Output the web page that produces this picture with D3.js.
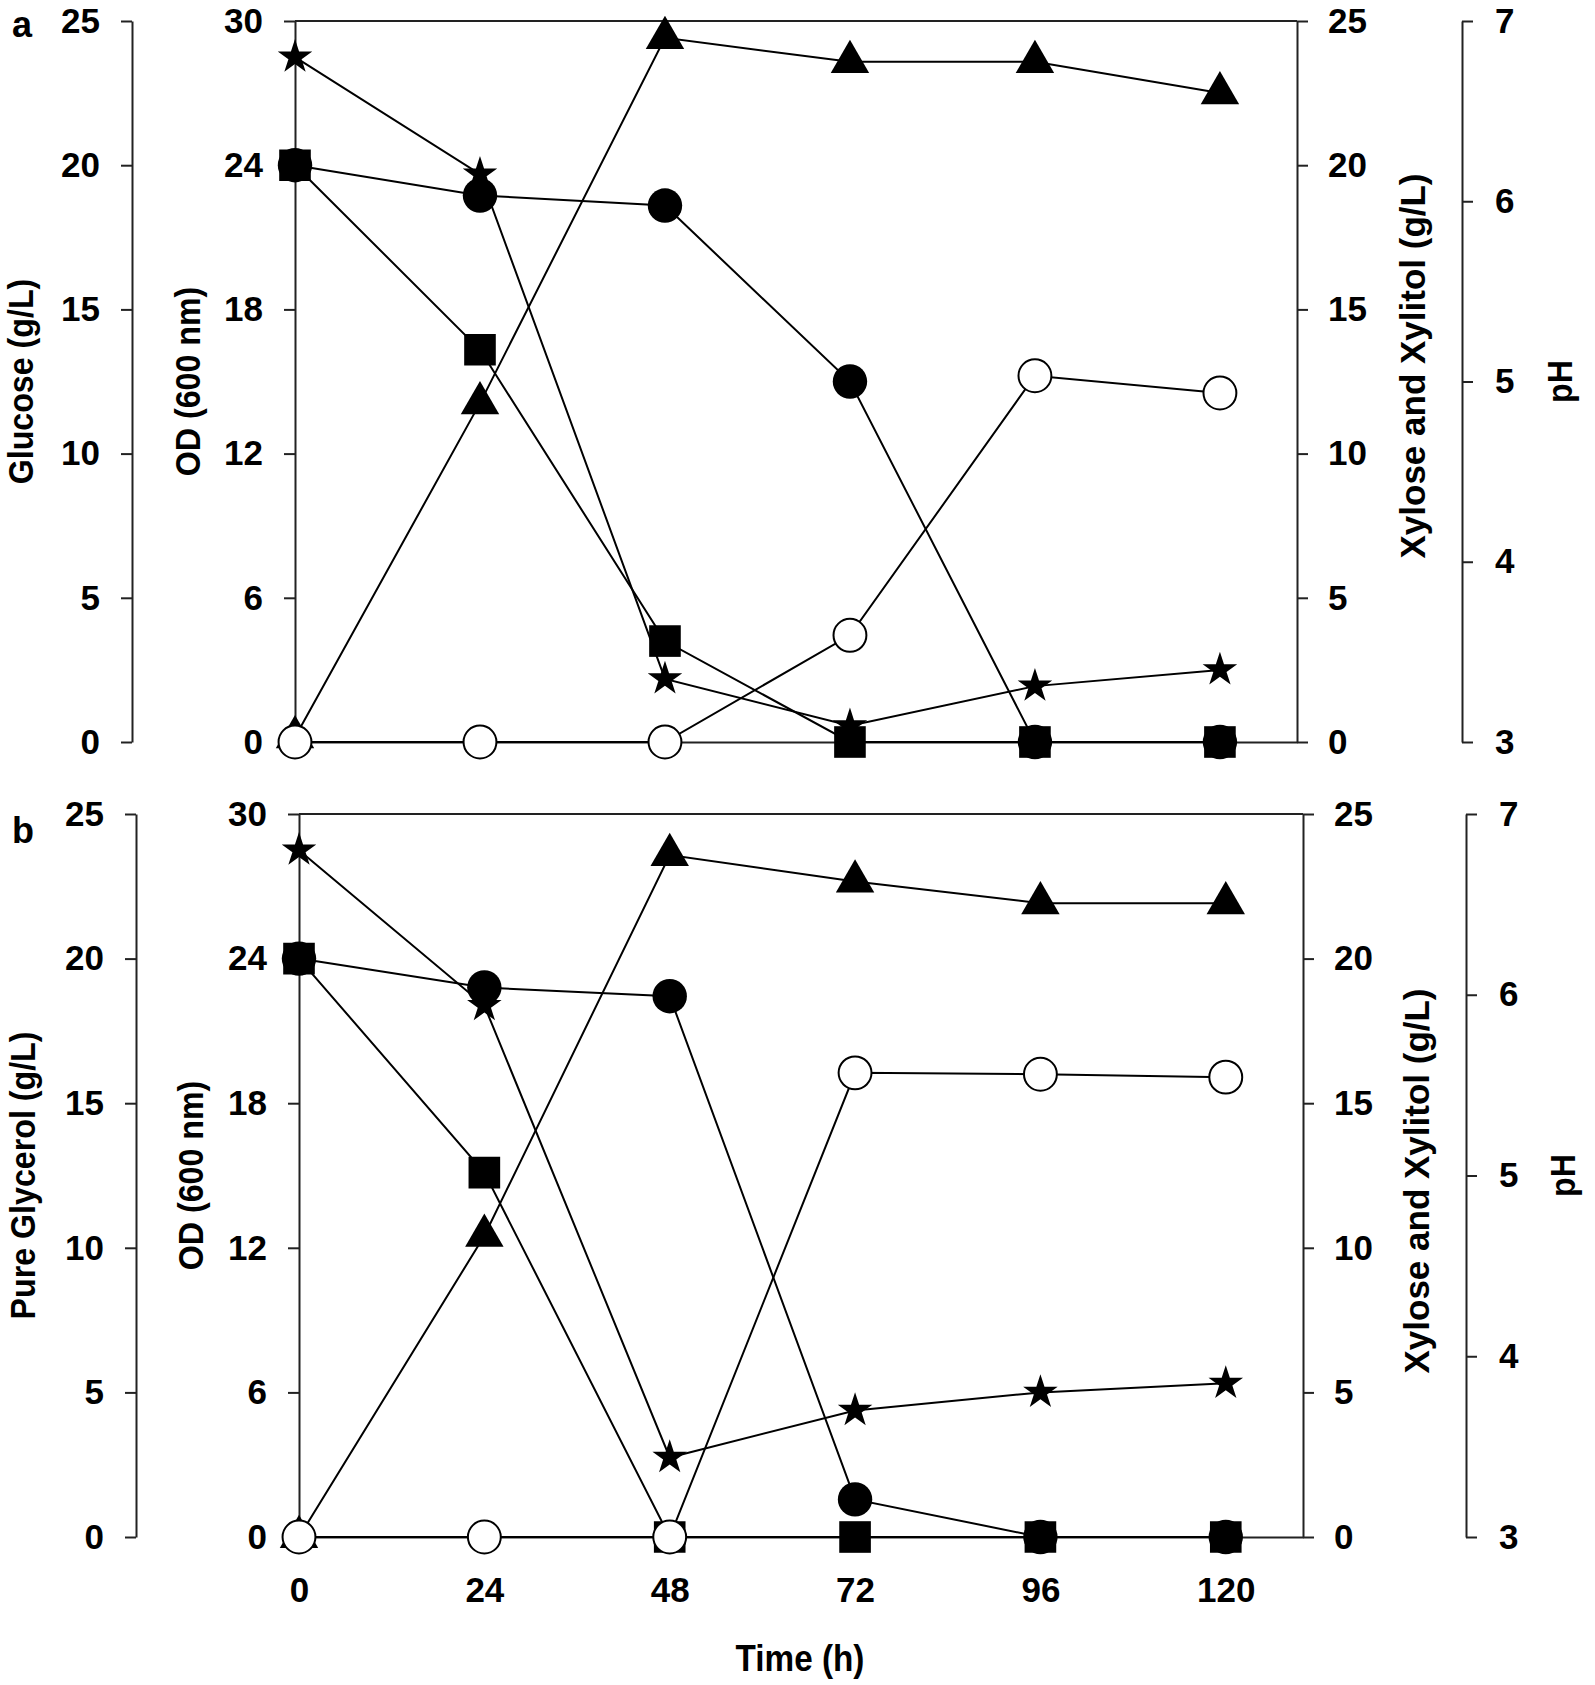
<!DOCTYPE html>
<html>
<head>
<meta charset="utf-8">
<script src="https://cdn.jsdelivr.net/npm/d3@7"></script>
<style>
body { margin: 0; background: #fff; }
text { font-family: 'Liberation Sans Narrow', 'Arial Narrow', 'Liberation Sans', sans-serif; font-weight: bold; fill: #000; }
</style>
</head>
<body>
<script>
// sampling times (h)
var hours = [0, 24, 48, 72, 96, 120];

// panel a - glucose
var glucoseA = [20, 13.6, 3.5, 0, 0, 0];
var odA = [0.2, 14.1, 29.3, 28.3, 28.3, 27.0];
var xyloseA = [20, 18.95, 18.6, 12.5, 0, 0];
var xylitolA = [0, 0, 0, 3.7, 12.7, 12.1];
var phA = [6.8, 6.15, 3.35, 3.09, 3.31, 3.4];

// panel b - pure glycerol
var glycerolB = [20, 12.6, 0, 0, 0, 0];
var odB = [0, 12.5, 28.3, 27.2, 26.3, 26.3];
var xyloseB = [20, 19.0, 18.7, 1.3, 0, 0];
var xylitolB = [0, 0, 0, 16.05, 16.0, 15.9];
var phB = [6.8, 5.94, 3.44, 3.7, 3.8, 3.85];

// tick labels
var substrateTicks = [0, 5, 10, 15, 20, 25];
var odTicks = [0, 6, 12, 18, 24, 30];
var xylTicks = [0, 5, 10, 15, 20, 25];
var phTicks = [3, 4, 5, 6, 7];

var svgWidth = 1595, svgHeight = 1685;

var svg = d3.select("body")
  .append("svg")
  .attr("width", svgWidth)
  .attr("height", svgHeight);

var panels = [
  { tag: "a", subLabel: "Glucose (g/L)", sub: glucoseA, od: odA, xyl: xyloseA, xol: xylitolA, ph: phA,
    top: 21, bottom: 742, leftX: 132, x0: 295, x1: 1297, phX: 1462, showTime: false,
    tagY: 37, subTitleX: 33, odTitleX: 200, xylTitleX: 1425, xylTitleY: 366, phTitleX: 1572 },
  { tag: "b", subLabel: "Pure Glycerol (g/L)", sub: glycerolB, od: odB, xyl: xyloseB, xol: xylitolB, ph: phB,
    top: 814, bottom: 1537, leftX: 136, x0: 299, x1: 1303, phX: 1466, showTime: true,
    tagY: 843, subTitleX: 35, odTitleX: 203, xylTitleX: 1429, xylTitleY: 1181, phTitleX: 1575 }
];

function styleAxis(g) {
  g.select(".domain").attr("stroke", "#222").attr("stroke-width", 2);
  g.selectAll(".tick line").attr("stroke", "#222").attr("stroke-width", 2);
  g.selectAll(".tick text").attr("font-size", 35).attr("fill", "#000");
}

panels.forEach(function(p) {
  var x = d3.scaleLinear().domain([0, 130]).range([p.x0, p.x1]);
  var ySub = d3.scaleLinear().domain([0, 25]).range([p.bottom, p.top]);
  var yOd = d3.scaleLinear().domain([0, 30]).range([p.bottom, p.top]);
  var yXyl = d3.scaleLinear().domain([0, 25]).range([p.bottom, p.top]);
  var yPh = d3.scaleLinear().domain([3, 7]).range([p.bottom, p.top]);

  var g = svg.append("g");

  // axes
  g.append("g").attr("transform", `translate(${p.leftX},0)`)
    .call(d3.axisLeft(ySub).tickValues(substrateTicks).tickSize(11).tickSizeOuter(0).tickPadding(21))
    .call(styleAxis);
  g.append("g").attr("transform", `translate(${p.x0},0)`)
    .call(d3.axisLeft(yOd).tickValues(odTicks).tickSize(11).tickSizeOuter(0).tickPadding(21))
    .call(styleAxis);
  g.append("g").attr("transform", `translate(${p.x1},0)`)
    .call(d3.axisRight(yXyl).tickValues(xylTicks).tickSize(11).tickSizeOuter(0).tickPadding(20))
    .call(styleAxis);
  g.append("g").attr("transform", `translate(${p.phX},0)`)
    .call(d3.axisRight(yPh).tickValues(phTicks).tickFormat(d3.format("d")).tickSize(11).tickSizeOuter(0).tickPadding(22))
    .call(styleAxis);

  // top frame
  g.append("line")
    .attr("x1", p.x0).attr("x2", p.x1)
    .attr("y1", p.top).attr("y2", p.top)
    .attr("stroke", "#222").attr("stroke-width", 2);

  // bottom / time axis
  var xAxis = d3.axisBottom(x).tickValues(hours).tickSize(0).tickSizeOuter(0).tickPadding(40);
  if (!p.showTime) xAxis.tickFormat("");
  g.append("g").attr("transform", `translate(0,${p.bottom})`)
    .call(xAxis)
    .call(styleAxis);

  // series drawn back to front
  var series = [
    { v: p.od, y: yOd, type: d3.symbolTriangle, size: 640, fill: "#000" },
    { v: p.ph, y: yPh, type: d3.symbolStar, size: 370, fill: "#000" },
    { v: p.sub, y: ySub, type: d3.symbolSquare, size: 1000, fill: "#000" },
    { v: p.xyl, y: yXyl, type: d3.symbolCircle, size: 930, fill: "#000" },
    { v: p.xol, y: yXyl, type: d3.symbolCircle, size: 850, fill: "#fff" }
  ];

  series.forEach(function(s) {
    var line = d3.line()
      .x(function(d, i) { return x(hours[i]); })
      .y(function(d) { return s.y(d); });
    g.append("path")
      .datum(s.v)
      .attr("d", line)
      .attr("fill", "none")
      .attr("stroke", "#000")
      .attr("stroke-width", 2);
  });

  series.forEach(function(s) {
    g.selectAll(null)
      .data(s.v)
      .enter()
      .append("path")
      .attr("transform", function(d, i) { return `translate(${x(hours[i])},${s.y(d)})`; })
      .attr("d", d3.symbol().type(s.type).size(s.size))
      .attr("fill", s.fill)
      .attr("stroke", "#000")
      .attr("stroke-width", s.fill === "#fff" ? 2 : 0);
  });

  // panel tag
  g.append("text")
    .attr("x", 12).attr("y", p.tagY)
    .attr("font-size", 36)
    .text(p.tag);

  var midY = (p.top + p.bottom) / 2;
  function yTitle(tx, ty, label, sx) {
    g.append("text")
      .attr("transform", `translate(${tx},${ty}) rotate(-90) scale(${sx},1)`)
      .attr("text-anchor", "middle")
      .attr("font-size", 35)
      .text(label);
  }
  yTitle(p.subTitleX, midY, p.subLabel, 0.92);
  yTitle(p.odTitleX, midY, "OD (600 nm)", 0.92);
  yTitle(p.xylTitleX, p.xylTitleY, "Xylose and Xylitol (g/L)", 1.0);
  yTitle(p.phTitleX, midY, "pH", 0.92);
});

svg.append("text")
  .attr("transform", "translate(800,1671) scale(0.9,1)")
  .attr("text-anchor", "middle")
  .attr("font-size", 37)
  .text("Time (h)");
</script>
</body>
</html>
